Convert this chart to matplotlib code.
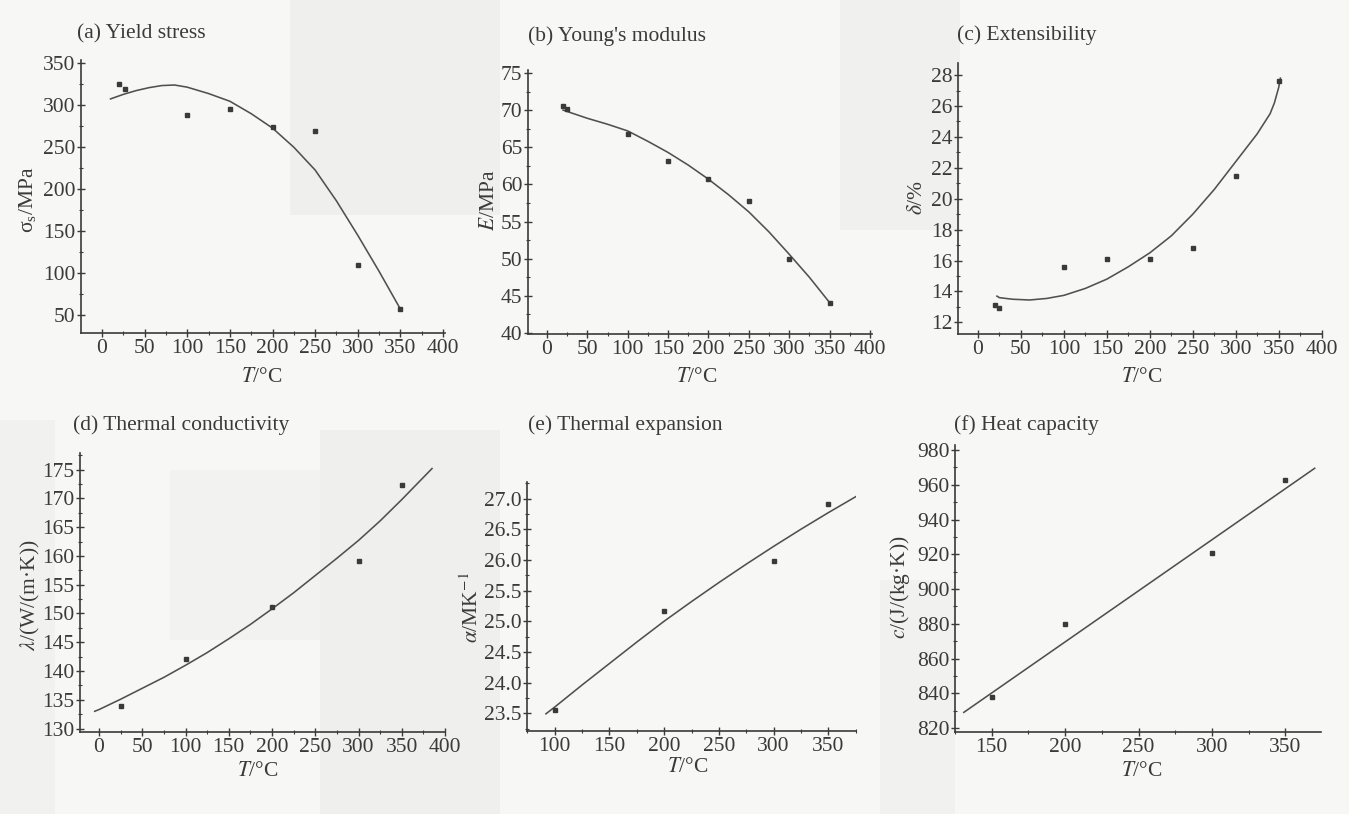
import matplotlib
matplotlib.use("Agg")
import matplotlib.pyplot as plt
from matplotlib.ticker import MultipleLocator, AutoMinorLocator, FormatStrFormatter
from matplotlib.patches import Rectangle

plt.rcParams['font.family'] = ['Liberation Serif', 'DejaVu Serif']
plt.rcParams['mathtext.fontset'] = 'stix'

W, H = 1349, 814

# ---------------- data ----------------
# (a) Yield stress
T_a = [20, 27, 100, 150, 200, 250, 300, 350]
sig_a = [325.6, 320, 288, 296, 274.4, 268.8, 110, 57]
Tfit_a = [10, 25, 40, 55, 70, 85, 100, 125, 150, 175, 200, 225, 250, 275, 300, 325, 350]
fit_a = [307.6, 313, 317.5, 321, 323.5, 324.2, 321.6, 314, 304.8, 290, 272.8, 250, 222.8, 186, 145, 102, 57]

# (b) Young's modulus
T_b = [20, 25, 100, 150, 200, 250, 300, 350]
E_b = [70.5, 70.1, 66.8, 63.2, 60.7, 57.8, 50.0, 44.1]
Tfit_b = [20, 50, 75, 100, 125, 150, 175, 200, 225, 250, 275, 300, 325, 350]
fit_b = [70.0, 68.9, 68.1, 67.2, 65.8, 64.3, 62.6, 60.7, 58.6, 56.3, 53.6, 50.6, 47.5, 44.1]

# (c) Extensibility
T_c = [20, 25, 100, 150, 200, 250, 300, 350]
d_c = [13.1, 12.9, 15.6, 16.1, 16.1, 16.8, 21.5, 27.6]
Tfit_c = [22, 25, 40, 60, 80, 100, 125, 150, 175, 200, 225, 250, 275, 300, 325, 340, 345, 350, 352]
fit_c = [13.7, 13.6, 13.5, 13.45, 13.55, 13.75, 14.2, 14.8, 15.6, 16.5, 17.6, 19.0, 20.6, 22.4, 24.2, 25.5, 26.2, 27.2, 27.8]

# (d) Thermal conductivity
T_d = [25, 100, 200, 300, 350]
lam_d = [134.0, 142.1, 151.1, 159.1, 172.4]
Tfit_d = [-5, 0, 25, 50, 75, 100, 125, 150, 175, 200, 225, 250, 275, 300, 325, 350, 385]
fit_d = [133.0, 133.3, 135.1, 137.0, 138.9, 141.0, 143.2, 145.6, 148.1, 150.8, 153.6, 156.6, 159.6, 162.7, 166.1, 169.8, 175.2]

# (e) Thermal expansion
T_e = [100, 200, 300, 350]
al_e = [23.56, 25.17, 25.99, 26.91]
Tfit_e = [92, 100, 125, 150, 175, 200, 225, 250, 275, 300, 325, 350, 375]
fit_e = [23.49, 23.60, 23.96, 24.31, 24.66, 25.00, 25.32, 25.63, 25.93, 26.22, 26.50, 26.77, 27.03]

# (f) Heat capacity
T_f = [150, 200, 300, 350]
c_f = [837.7, 879.6, 920.6, 962.9]
Tfit_f = [131, 370]
fit_f = [829, 969.5]

# ---------------- figure ----------------
fig = plt.figure(figsize=(W / 100, H / 100), dpi=100)
fig.patch.set_facecolor('#f7f7f6')

# faint scan shading patches (pixel boxes: x0, y0, x1, y1)
shades = [(290, 0, 500, 215, '#efefee'), (840, 0, 960, 230, '#f0f0ef'),
          (320, 430, 500, 814, '#efefee'), (170, 470, 320, 640, '#f2f2f1'),
          (0, 420, 55, 814, '#f1f1f0'), (880, 580, 955, 814, '#f1f1f0')]
for x0, y0, x1, y1, col in shades:
    fig.patches.append(Rectangle((x0 / W, 1 - y1 / H), (x1 - x0) / W, (y1 - y0) / H,
                                 transform=fig.transFigure, facecolor=col,
                                 edgecolor='none', zorder=-10))

INK = '#3a3a3a'
LINE = '#505050'
FS = 15.5


def make_ax(box, xlim, ylim, xmaj, ymaj):
    x0, y0, x1, y1 = box
    ax = fig.add_axes([x0 / W, 1 - y1 / H, (x1 - x0) / W, (y1 - y0) / H])
    ax.set_zorder(5)
    ax.set_facecolor('none')
    ax.set_xlim(*xlim)
    ax.set_ylim(*ylim)
    for s in ['top', 'right']:
        ax.spines[s].set_visible(False)
    for s in ['left', 'bottom']:
        ax.spines[s].set_color(INK)
        ax.spines[s].set_linewidth(1.2)
    ax.xaxis.set_major_locator(MultipleLocator(xmaj))
    ax.yaxis.set_major_locator(MultipleLocator(ymaj))
    ax.xaxis.set_minor_locator(AutoMinorLocator(2))
    ax.yaxis.set_minor_locator(AutoMinorLocator(2))
    ax.tick_params(which='major', direction='inout', length=6, width=1.0,
                   color=INK, labelsize=FS, labelcolor=INK, pad=1)
    ax.tick_params(which='minor', direction='inout', length=3, width=0.8, color=INK)
    return ax


def draw(ax, T, v, Tf, vf):
    ax.plot(Tf, vf, color=LINE, lw=1.15, zorder=2, solid_joinstyle='round')
    ax.plot(T, v, ls='none', marker='s', ms=3.4, color=INK, mec=INK, zorder=3)


def ptext(x, y, s, **kw):
    t = fig.text(x / W, 1 - y / H, s, color=INK, **kw)
    t.set_zorder(6)


XL = r'$T$/°C'

# (a)
ax = make_ax((81, 60, 445, 333), (-24.6, 402.3), (28.5, 354), 50, 50)
draw(ax, T_a, sig_a, Tfit_a, fit_a)
ax.set_yticks([50, 100, 150, 200, 250, 300, 350])
ptext(77, 34, '(a) Yield stress', fontsize=FS, ha='left', va='center')
ptext(28, 200, r'$\mathregular{\sigma_s}$/MPa', fontsize=FS, rotation=90, ha='center', va='center')
ptext(262, 378, XL, fontsize=FS, ha='center', va='center')

# (b)
ax = make_ax((528, 70, 872, 334), (-23.5, 402.5), (39.87, 75.4), 50, 5)
draw(ax, T_b, E_b, Tfit_b, fit_b)
ptext(528, 36, "(b) Young's modulus", fontsize=FS, ha='left', va='center')
ptext(490, 200, r'$E$/MPa', fontsize=FS, rotation=90, ha='center', va='center')
ptext(697, 378, XL, fontsize=FS, ha='center', va='center')

# (c)
ax = make_ax((958, 63, 1322, 334), (-23.3, 400.4), (11.25, 28.78), 50, 2)
draw(ax, T_c, d_c, Tfit_c, fit_c)
ptext(957, 35, '(c) Extensibility', fontsize=FS, ha='left', va='center')
ptext(917, 197, r'$\delta$/%', fontsize=FS, rotation=90, ha='center', va='center')
ptext(1142, 378, XL, fontsize=FS, ha='center', va='center')

# (d)
ax = make_ax((80, 453, 445, 732), (-22, 400), (129.4, 177.9), 50, 5)
draw(ax, T_d, lam_d, Tfit_d, fit_d)
ax.set_yticks([130, 135, 140, 145, 150, 155, 160, 165, 170, 175])
ptext(73, 425, '(d) Thermal conductivity', fontsize=FS, ha='left', va='center')
ptext(30, 595, r'$\lambda$/(W/(m·K))', fontsize=FS, rotation=90, ha='center', va='center')
ptext(258, 772, XL, fontsize=FS, ha='center', va='center')

# (e)
ax = make_ax((527, 482, 856, 731), (74.7, 375.3), (23.21, 27.27), 50, 0.5)
draw(ax, T_e, al_e, Tfit_e, fit_e)
ax.set_yticks([23.5, 24.0, 24.5, 25.0, 25.5, 26.0, 26.5, 27.0])
ax.yaxis.set_major_formatter(FormatStrFormatter('%.1f'))
ptext(528, 425, '(e) Thermal expansion', fontsize=FS, ha='left', va='center')
ptext(472, 607, r'$\alpha$/MK$^{-1}$', fontsize=FS, rotation=90, ha='center', va='center')
ptext(688, 768, XL, fontsize=FS, ha='center', va='center')

# (f)
ax = make_ax((955, 445, 1321, 732), (125, 374.3), (817.7, 982.9), 50, 20)
draw(ax, T_f, c_f, Tfit_f, fit_f)
ax.set_yticks([820, 840, 860, 880, 900, 920, 940, 960, 980])
ptext(954, 425, '(f) Heat capacity', fontsize=FS, ha='left', va='center')
ptext(900, 587, r'$c$/(J/(kg·K))', fontsize=FS, rotation=90, ha='center', va='center')
ptext(1142, 772, XL, fontsize=FS, ha='center', va='center')

fig.savefig('out.png', dpi=100, facecolor=fig.get_facecolor())
